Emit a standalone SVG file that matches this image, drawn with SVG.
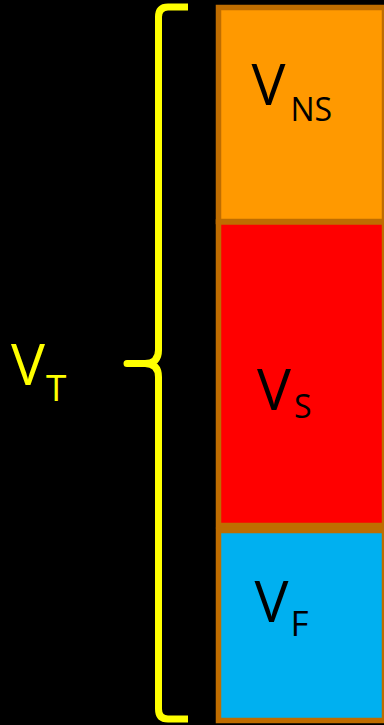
<svg xmlns="http://www.w3.org/2000/svg" width="384" height="725" viewBox="0 0 384 725">
<style>
.box{stroke:#BF6D00;stroke-width:5.5}
.big{font-family:"Open Sans","Liberation Sans",sans-serif;font-size:57px}
.sub{font-family:"Open Sans","Liberation Sans",sans-serif}
.dark{fill:#000}
.yel{fill:#FFFF00}
</style>
<rect x="0" y="0" width="384" height="725" fill="#000"/>
<g id="brace">
<path d="M188,7 H168 Q158.5,7 158.5,17 V350 Q158.5,363.5 145,363.5 H127 H145 Q158.5,363.5 158.5,377 V709 Q158.5,719 168,719 H188" fill="none" stroke="#FFFF00" stroke-width="7" stroke-linejoin="round"/>
</g>
<g id="vt">
<text class="big yel" x="11" y="385">V</text>
<text class="sub yel" x="46" y="400.7" font-size="37">T</text>
</g>
<g id="vns">
<rect class="box" x="218.5" y="7.5" width="166" height="214" fill="#FF9900"/>
<text class="big dark" x="251.5" y="105">V</text>
<text class="sub dark" x="290.5" y="120.7" font-size="32">NS</text>
</g>
<g id="vs">
<rect class="box" x="218.5" y="222" width="166" height="303.5" fill="#FF0000"/>
<text class="big dark" x="257" y="410">V</text>
<text class="sub dark" x="294" y="418" font-size="32">S</text>
</g>
<g id="vf">
<rect class="box" x="218.5" y="530.5" width="166" height="190" fill="#00B0F0"/>
<text class="big dark" x="254.5" y="622">V</text>
<text class="sub dark" x="290.5" y="635.7" font-size="35">F</text>
</g>
<g id="connectors"/>
</svg>
